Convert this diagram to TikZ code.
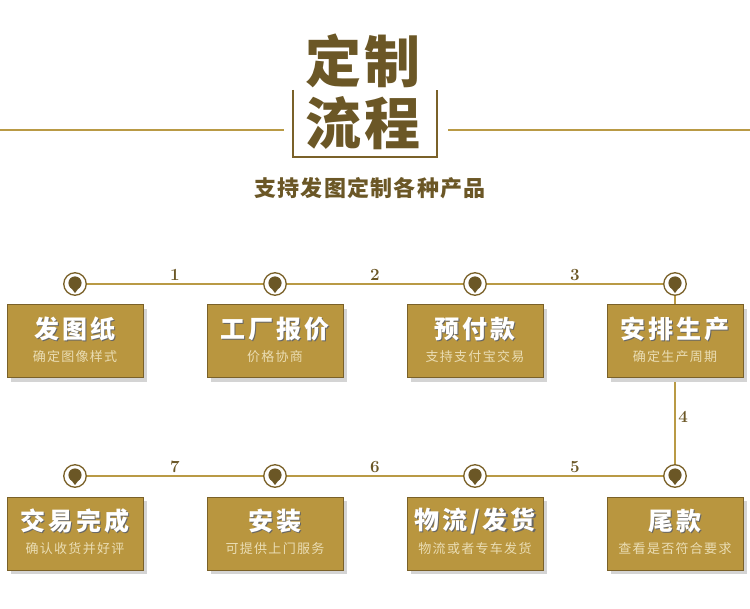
\documentclass[tikz,border=0pt]{standalone}
\usepackage{fontspec}
\newfontfamily\cjk{Noto Sans CJK SC}
\usetikzlibrary{positioning,calc,shadows}
\definecolor{gold}{HTML}{B9963F}
\definecolor{goldline}{HTML}{B99A45}
\definecolor{darkgold}{HTML}{6B5726}
\definecolor{edge}{HTML}{7A6129}
\definecolor{pale}{HTML}{EADDB4}
\tikzset{
  link/.style={goldline,line width=1.6pt},
  ring/.style={circle,draw=edge,fill=white,line width=1.3pt,minimum size=22.5pt,inner sep=0pt},
  stepbox/.style={rectangle,draw=edge,fill=gold,line width=1pt,minimum width=136pt,minimum height=73pt,
    drop shadow={shadow xshift=4pt,shadow yshift=-4pt,fill=black!17,opacity=1}},
  head/.style={font=\cjk\bfseries\fontsize{25}{25}\selectfont\addfontfeature{LetterSpace=12},text=white},
  headsh/.style={head,text=black!60},
  sub/.style={font=\cjk\fontsize{13}{14}\selectfont\addfontfeature{LetterSpace=10},text=pale},
  num/.style={font=\bfseries\fontsize{17}{17}\selectfont,text=darkgold,inner sep=2.5pt},
  big/.style={font=\cjk\bfseries\fontsize{56}{56}\selectfont\addfontfeature{LetterSpace=6},text=darkgold},
}
% one process step: name, x, y, title, note
\newcommand\stepnode[5]{%
  \node[stepbox] (#1) at (#2,#3) {};
  \node[headsh] (#1s) at ([xshift=1.4pt,yshift=11.1pt]#1.center) {#4};
  \node[head] (#1h) at ([yshift=12.5pt]#1.center) {#4};
  \node[sub] (#1n) at ([yshift=-15.5pt]#1.center) {#5};}
% ring with a pin inside
\newcommand\pinnode[3]{%
  \node[ring] (#1) at (#2,#3) {};
  \fill[darkgold] ($(#1)+(0,-1)$) circle (6.6pt);
  \fill[darkgold] ($(#1)+(-4.6,3)$) -- ($(#1)+(0,9)$) -- ($(#1)+(4.6,3)$) -- cycle;}

\begin{document}
\begin{tikzpicture}[x=1pt,y=-1pt]
\useasboundingbox[fill=white] (0,0) rectangle (750,609);
% header
\node[big] (t1) at (363,61) {定制};
\node[big] (t2) at (363,123) {流程};
\draw[edge,line width=1.2pt] (293,90) |- (437,157) -- (437,90);
\coordinate (hl) at (0,130); \coordinate (hr) at (750,130);
\draw[link,line width=1.3pt] (hl) -- (284,130);
\draw[link,line width=1.3pt] (448,130) -- (hr);
\node[font=\cjk\bfseries\fontsize{22}{22}\selectfont\addfontfeature{LetterSpace=6},text=darkgold] (sub) at (370,188) {支持发图定制各种产品};
% rings
\pinnode{c1}{75}{284} \pinnode{c2}{275}{284} \pinnode{c3}{475}{284} \pinnode{c4}{675}{284}
\pinnode{c5}{75}{476} \pinnode{c6}{275}{476} \pinnode{c7}{475}{476} \pinnode{c8}{675}{476}
\draw[link] (c1) -- node[num,above] {1} (c2);
\draw[link] (c2) -- node[num,above] {2} (c3);
\draw[link] (c3) -- node[num,above] {3} (c4);
\draw[link] (c4) -- node[num,right,pos=0.72] {4} (c8);
\draw[link] (c8) -- node[num,above] {5} (c7);
\draw[link] (c7) -- node[num,above] {6} (c6);
\draw[link] (c6) -- node[num,above] {7} (c5);
% steps
\stepnode{s1}{75}{341.5}{发图纸}{确定图像样式}
\stepnode{s2}{275}{341.5}{工厂报价}{价格协商}
\stepnode{s3}{475}{341.5}{预付款}{支持支付宝交易}
\stepnode{s4}{675}{341.5}{安排生产}{确定生产周期}
\stepnode{s5}{75}{533.5}{交易完成}{确认收货并好评}
\stepnode{s6}{275}{533.5}{安装}{可提供上门服务}
\stepnode{s7}{475}{533.5}{物流/发货}{物流或者专车发货}
\stepnode{s8}{675}{533.5}{尾款}{查看是否符合要求}
\end{tikzpicture}
\end{document}
